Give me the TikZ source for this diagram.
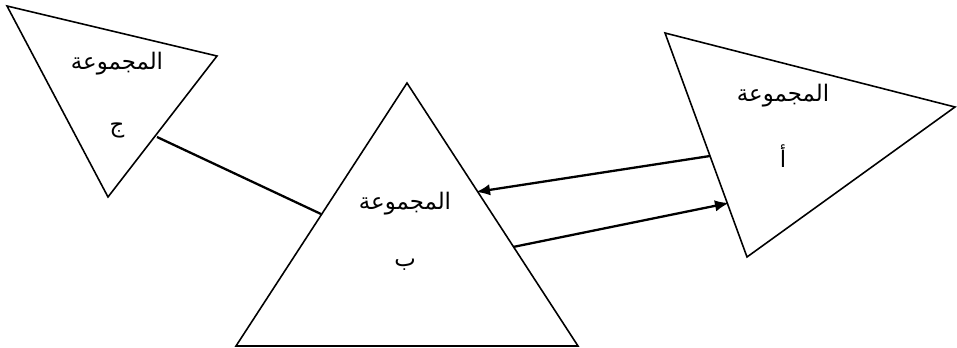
\documentclass[tikz,border=0pt]{standalone}
\usepackage{fontspec}
\newfontfamily\arabicfont[Script=Arabic]{DejaVu Sans}
\TeXXeTstate=1
\usetikzlibrary{arrows.meta}
\begin{document}
\begin{tikzpicture}[x=0.02cm,y=-0.02cm,
  tri/.style={draw=black,line width=0.9pt,line join=miter},
  lbl/.style={font=\arabicfont\fontsize{13}{15}\selectfont,inner sep=0pt},
  link/.style={draw=black,line width=1.3pt},
  arr/.style={link,-{Latex[length=8pt,width=6.5pt]}}]
\useasboundingbox (0,0) rectangle (957,348);
% triangle C
\coordinate (c1) at (7,6);
\coordinate (c2) at (217,56);
\coordinate (c3) at (108,197);
\draw[tri] (c1) -- (c2) -- (c3) -- cycle;
% triangle B
\coordinate (b1) at (407,83);
\coordinate (b2) at (578,346);
\coordinate (b3) at (236,346);
\draw[tri] (b1) -- (b2) -- (b3) -- cycle;
% triangle A
\coordinate (a1) at (665,33);
\coordinate (a2) at (955,107);
\coordinate (a3) at (747,257);
\draw[tri] (a1) -- (a2) -- (a3) -- cycle;
% labels
\node[lbl] (tc) at (117,64) {\beginR المجموعة\endR};
\node[lbl] (tc2) at (117,130) {\beginR ج\endR};
\node[lbl] (tb) at (405,204) {\beginR المجموعة\endR};
\node[lbl] (tb2) at (405,265) {\beginR ب\endR};
\node[lbl] (ta) at (783,96) {\beginR المجموعة\endR};
\node[lbl] (ta2) at (783,156) {\beginR أ\endR};
% connectors
\coordinate (pc) at (157,137);
\coordinate (pb) at (321,214);
\draw[link] (pc) -- (pb);
\coordinate (pa1) at (710,156);
\coordinate (pb1) at (476,192);
\draw[arr] (pa1) -- (pb1);
\coordinate (pb2) at (513,247);
\coordinate (pa2) at (729,203);
\draw[arr] (pb2) -- (pa2);
\end{tikzpicture}
\end{document}
